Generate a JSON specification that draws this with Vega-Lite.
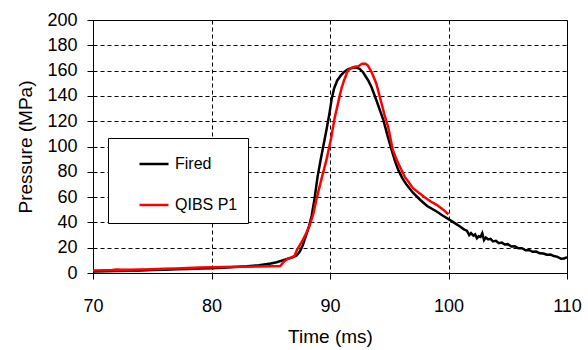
{
  "$schema": "https://vega.github.io/schema/vega-lite/v6.json",
  "width": 474,
  "height": 253,
  "autosize": {"type": "none"},
  "padding": {"left": 93, "top": 20, "right": 21, "bottom": 77},
  "background": "white",
  "config": {
    "font": "Liberation Sans",
    "view": {"stroke": "black", "strokeWidth": 1},
    "axis": {
      "labelFont": "Liberation Sans",
      "titleFont": "Liberation Sans",
      "labelFontSize": 18,
      "titleFontSize": 19,
      "titleFontWeight": "normal",
      "labelColor": "black",
      "titleColor": "black",
      "domainColor": "black",
      "tickColor": "black",
      "tickSize": 6,
      "gridColor": "black",
      "gridDash": [4, 3],
      "gridOpacity": 1,
      "gridWidth": 1
    },
    "legend": {
      "orient": "none",
      "legendX": 15,
      "legendY": 118,
      "padding": 10,
      "rowPadding": 17,
      "symbolOffset": 20,
      "symbolType": "stroke",
      "symbolSize": 841,
      "symbolStrokeWidth": 2.5,
      "labelFont": "Liberation Sans",
      "labelFontSize": 16,
      "labelColor": "black",
      "labelOffset": 5,
      "fillColor": "white",
      "strokeColor": "black"
    }
  },
  "datasets": {
    "curves": [
      {"t": 70, "p": 1.2, "series": "Fired"},
      {"t": 71, "p": 1.3, "series": "Fired"},
      {"t": 72, "p": 1.5, "series": "Fired"},
      {"t": 73, "p": 1.7, "series": "Fired"},
      {"t": 74, "p": 2.0, "series": "Fired"},
      {"t": 75, "p": 2.3, "series": "Fired"},
      {"t": 76, "p": 2.6, "series": "Fired"},
      {"t": 77, "p": 2.9, "series": "Fired"},
      {"t": 78, "p": 3.2, "series": "Fired"},
      {"t": 79, "p": 3.5, "series": "Fired"},
      {"t": 80, "p": 3.8, "series": "Fired"},
      {"t": 81, "p": 4.2, "series": "Fired"},
      {"t": 82, "p": 4.7, "series": "Fired"},
      {"t": 83, "p": 5.3, "series": "Fired"},
      {"t": 84, "p": 6.2, "series": "Fired"},
      {"t": 85, "p": 7.5, "series": "Fired"},
      {"t": 85.5, "p": 8.5, "series": "Fired"},
      {"t": 86, "p": 10, "series": "Fired"},
      {"t": 86.5, "p": 11.5, "series": "Fired"},
      {"t": 86.9, "p": 12.5, "series": "Fired"},
      {"t": 87.2, "p": 14, "series": "Fired"},
      {"t": 87.45, "p": 17, "series": "Fired"},
      {"t": 87.7, "p": 22, "series": "Fired"},
      {"t": 87.95, "p": 29, "series": "Fired"},
      {"t": 88.2, "p": 36, "series": "Fired"},
      {"t": 88.45, "p": 45, "series": "Fired"},
      {"t": 88.7, "p": 59, "series": "Fired"},
      {"t": 88.95, "p": 76, "series": "Fired"},
      {"t": 89.2, "p": 89, "series": "Fired"},
      {"t": 89.45, "p": 101, "series": "Fired"},
      {"t": 89.7, "p": 113, "series": "Fired"},
      {"t": 89.95, "p": 126, "series": "Fired"},
      {"t": 90.15, "p": 138, "series": "Fired"},
      {"t": 90.35, "p": 146, "series": "Fired"},
      {"t": 90.6, "p": 152, "series": "Fired"},
      {"t": 90.9, "p": 156, "series": "Fired"},
      {"t": 91.2, "p": 159, "series": "Fired"},
      {"t": 91.5, "p": 161, "series": "Fired"},
      {"t": 91.9, "p": 162.3, "series": "Fired"},
      {"t": 92.2, "p": 162.5, "series": "Fired"},
      {"t": 92.5, "p": 161.5, "series": "Fired"},
      {"t": 92.8, "p": 158.5, "series": "Fired"},
      {"t": 93.2, "p": 152.6, "series": "Fired"},
      {"t": 93.5, "p": 147, "series": "Fired"},
      {"t": 93.9, "p": 137, "series": "Fired"},
      {"t": 94.2, "p": 129, "series": "Fired"},
      {"t": 94.5, "p": 121, "series": "Fired"},
      {"t": 94.9, "p": 107, "series": "Fired"},
      {"t": 95.2, "p": 97.3, "series": "Fired"},
      {"t": 95.5, "p": 88, "series": "Fired"},
      {"t": 95.76, "p": 81.5, "series": "Fired"},
      {"t": 96.1, "p": 75, "series": "Fired"},
      {"t": 96.47, "p": 69.7, "series": "Fired"},
      {"t": 97.0, "p": 63.5, "series": "Fired"},
      {"t": 97.6, "p": 57.9, "series": "Fired"},
      {"t": 98.2, "p": 53, "series": "Fired"},
      {"t": 99.0, "p": 48.6, "series": "Fired"},
      {"t": 99.5, "p": 45.5, "series": "Fired"},
      {"t": 100.1, "p": 42, "series": "Fired"},
      {"t": 100.6, "p": 39, "series": "Fired"},
      {"t": 101.0, "p": 36.5, "series": "Fired"},
      {"t": 101.3, "p": 34.5, "series": "Fired"},
      {"t": 101.55, "p": 33.5, "series": "Fired"},
      {"t": 101.75, "p": 30, "series": "Fired"},
      {"t": 101.9, "p": 31.5, "series": "Fired"},
      {"t": 102.1, "p": 29.5, "series": "Fired"},
      {"t": 102.25, "p": 30.5, "series": "Fired"},
      {"t": 102.4, "p": 27.5, "series": "Fired"},
      {"t": 102.55, "p": 29, "series": "Fired"},
      {"t": 102.7, "p": 28.5, "series": "Fired"},
      {"t": 102.85, "p": 31.5, "series": "Fired"},
      {"t": 103.0, "p": 26, "series": "Fired"},
      {"t": 103.15, "p": 28, "series": "Fired"},
      {"t": 103.35, "p": 26.5, "series": "Fired"},
      {"t": 103.55, "p": 27, "series": "Fired"},
      {"t": 103.75, "p": 25, "series": "Fired"},
      {"t": 104.0, "p": 25.5, "series": "Fired"},
      {"t": 104.25, "p": 23.5, "series": "Fired"},
      {"t": 104.5, "p": 24, "series": "Fired"},
      {"t": 104.75, "p": 22.5, "series": "Fired"},
      {"t": 105.0, "p": 22.8, "series": "Fired"},
      {"t": 105.3, "p": 21, "series": "Fired"},
      {"t": 105.6, "p": 21.2, "series": "Fired"},
      {"t": 105.9, "p": 19.5, "series": "Fired"},
      {"t": 106.2, "p": 19.6, "series": "Fired"},
      {"t": 106.5, "p": 18, "series": "Fired"},
      {"t": 106.8, "p": 18.2, "series": "Fired"},
      {"t": 107.1, "p": 16.8, "series": "Fired"},
      {"t": 107.4, "p": 16.9, "series": "Fired"},
      {"t": 107.7, "p": 15.6, "series": "Fired"},
      {"t": 108.0, "p": 15.4, "series": "Fired"},
      {"t": 108.3, "p": 14.4, "series": "Fired"},
      {"t": 108.6, "p": 14.6, "series": "Fired"},
      {"t": 108.9, "p": 13.4, "series": "Fired"},
      {"t": 109.2, "p": 12.8, "series": "Fired"},
      {"t": 109.5, "p": 11.2, "series": "Fired"},
      {"t": 109.75, "p": 11.4, "series": "Fired"},
      {"t": 110, "p": 12.5, "series": "Fired"},
      {"t": 70, "p": 2.0, "series": "QIBS P1"},
      {"t": 71, "p": 2.2, "series": "QIBS P1"},
      {"t": 71.6, "p": 2.4, "series": "QIBS P1"},
      {"t": 72, "p": 2.8, "series": "QIBS P1"},
      {"t": 72.4, "p": 2.5, "series": "QIBS P1"},
      {"t": 73, "p": 2.6, "series": "QIBS P1"},
      {"t": 74, "p": 2.8, "series": "QIBS P1"},
      {"t": 75, "p": 3.0, "series": "QIBS P1"},
      {"t": 76, "p": 3.3, "series": "QIBS P1"},
      {"t": 77, "p": 3.6, "series": "QIBS P1"},
      {"t": 78, "p": 4.0, "series": "QIBS P1"},
      {"t": 79, "p": 4.3, "series": "QIBS P1"},
      {"t": 80, "p": 4.6, "series": "QIBS P1"},
      {"t": 81, "p": 4.7, "series": "QIBS P1"},
      {"t": 82, "p": 4.9, "series": "QIBS P1"},
      {"t": 83, "p": 5.0, "series": "QIBS P1"},
      {"t": 84, "p": 5.1, "series": "QIBS P1"},
      {"t": 85, "p": 5.3, "series": "QIBS P1"},
      {"t": 85.8, "p": 5.5, "series": "QIBS P1"},
      {"t": 86.1, "p": 9, "series": "QIBS P1"},
      {"t": 86.4, "p": 11, "series": "QIBS P1"},
      {"t": 86.8, "p": 12.5, "series": "QIBS P1"},
      {"t": 87.0, "p": 13.5, "series": "QIBS P1"},
      {"t": 87.2, "p": 18, "series": "QIBS P1"},
      {"t": 87.45, "p": 22, "series": "QIBS P1"},
      {"t": 87.7, "p": 26, "series": "QIBS P1"},
      {"t": 88.0, "p": 31.6, "series": "QIBS P1"},
      {"t": 88.3, "p": 38, "series": "QIBS P1"},
      {"t": 88.6, "p": 47, "series": "QIBS P1"},
      {"t": 88.9, "p": 60, "series": "QIBS P1"},
      {"t": 89.3, "p": 75, "series": "QIBS P1"},
      {"t": 89.7, "p": 89.4, "series": "QIBS P1"},
      {"t": 90.1, "p": 107, "series": "QIBS P1"},
      {"t": 90.4, "p": 123, "series": "QIBS P1"},
      {"t": 90.6, "p": 131, "series": "QIBS P1"},
      {"t": 90.8, "p": 139.4, "series": "QIBS P1"},
      {"t": 91.0, "p": 147, "series": "QIBS P1"},
      {"t": 91.2, "p": 152.6, "series": "QIBS P1"},
      {"t": 91.5, "p": 160, "series": "QIBS P1"},
      {"t": 91.8, "p": 162, "series": "QIBS P1"},
      {"t": 92.1, "p": 163, "series": "QIBS P1"},
      {"t": 92.4, "p": 163.5, "series": "QIBS P1"},
      {"t": 92.7, "p": 165.5, "series": "QIBS P1"},
      {"t": 93.0, "p": 165.5, "series": "QIBS P1"},
      {"t": 93.2, "p": 164, "series": "QIBS P1"},
      {"t": 93.5, "p": 159, "series": "QIBS P1"},
      {"t": 93.9, "p": 150, "series": "QIBS P1"},
      {"t": 94.35, "p": 134, "series": "QIBS P1"},
      {"t": 94.6, "p": 125, "series": "QIBS P1"},
      {"t": 94.9, "p": 115.7, "series": "QIBS P1"},
      {"t": 95.3, "p": 97.3, "series": "QIBS P1"},
      {"t": 95.6, "p": 90, "series": "QIBS P1"},
      {"t": 95.9, "p": 84, "series": "QIBS P1"},
      {"t": 96.3, "p": 76.2, "series": "QIBS P1"},
      {"t": 96.6, "p": 72.3, "series": "QIBS P1"},
      {"t": 97.0, "p": 67, "series": "QIBS P1"},
      {"t": 97.9, "p": 60.5, "series": "QIBS P1"},
      {"t": 98.5, "p": 56.5, "series": "QIBS P1"},
      {"t": 99.0, "p": 53.9, "series": "QIBS P1"},
      {"t": 99.5, "p": 50.5, "series": "QIBS P1"},
      {"t": 100.0, "p": 46.5, "series": "QIBS P1"}
    ]
  },
  "data": {"name": "curves"},
  "encoding": {
    "x": {
      "field": "t", "type": "quantitative",
      "scale": {"domain": [70, 110], "nice": false, "zero": false},
      "axis": {"title": "Time (ms)", "values": [70, 80, 90, 100, 110], "labelPadding": 18, "titlePadding": 12, "labelFlush": false}
    },
    "y": {
      "field": "p", "type": "quantitative",
      "scale": {"domain": [0, 200], "nice": false},
      "axis": {"title": "Pressure (MPa)", "values": [0, 20, 40, 60, 80, 100, 120, 140, 160, 180, 200], "labelPadding": 10, "titlePadding": 11}
    },
    "color": {
      "field": "series", "type": "nominal",
      "scale": {"domain": ["Fired", "QIBS P1"], "range": ["#000000", "#ff0000"]},
      "legend": {"title": null, "labelExpr": "datum.label + '\u00a0\u00a0\u00a0\u00a0\u00a0'"}
    }
  },
  "layer": [
    {"transform": [{"filter": "datum.series === 'Fired'"}], "mark": {"type": "line", "strokeWidth": 2.5}},
    {"transform": [{"filter": "datum.series === 'QIBS P1'"}], "mark": {"type": "line", "strokeWidth": 2.5}}
  ]
}
